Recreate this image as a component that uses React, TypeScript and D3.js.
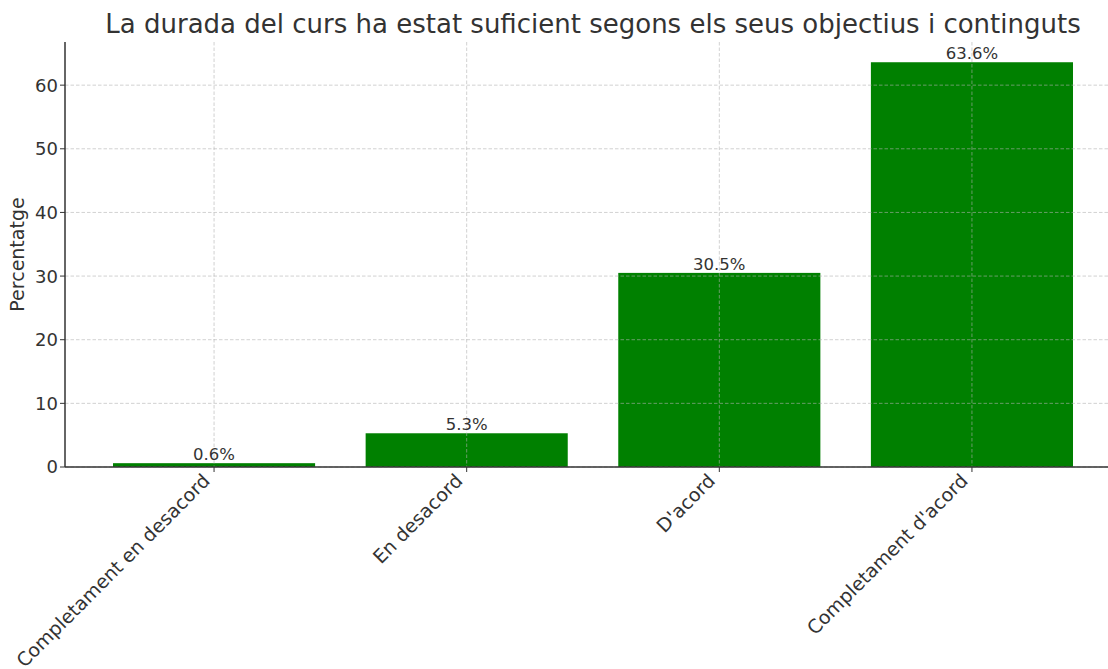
import React, { useEffect, useRef } from 'react'
import * as d3 from 'd3'

const categories = ['Completament en desacord', 'En desacord', "D'acord", "Completament d'acord"]
const values = [0.6, 5.3, 30.5, 63.6]
const yTicks = [0, 10, 20, 30, 40, 50, 60]
const title = 'La durada del curs ha estat suficient segons els seus objectius i continguts'
const yLabel = 'Percentatge'

const W = 1108
const H = 669
const FONT = 'DejaVu Sans, sans-serif'
const TEXT = '#333333'

export default function App() {
  const svgRef = useRef<SVGSVGElement>(null)

  useEffect(() => {
    const svg = d3.select(svgRef.current)
    svg.selectAll('*').remove()

    const left = 65
    const top = 42
    const bottom = 467

    // matplotlib-like bar layout: width 0.8, 5% margins
    const xMin = -0.4 - 0.19
    const xMax = 3.4 + 0.19
    const x = d3.scaleLinear().domain([xMin, xMax]).range([left, left + 1056])
    const yMax = d3.max(values)! * 1.05
    const y = d3.scaleLinear().domain([0, yMax]).range([bottom, top])

    // bars
    svg.append('g')
      .selectAll('rect')
      .data(values)
      .join('rect')
      .attr('x', (_, i) => x(i - 0.4))
      .attr('width', (_, i) => x(i + 0.4) - x(i - 0.4))
      .attr('y', d => y(d))
      .attr('height', d => y(0) - y(d))
      .attr('fill', '#008000')

    // grid on top of bars
    const grid = svg.append('g')
      .attr('stroke', '#b0b0b0')
      .attr('stroke-opacity', 0.65)
      .attr('stroke-dasharray', '3.5,2')
      .attr('stroke-width', 0.9)
    grid.selectAll('line.h')
      .data(yTicks)
      .join('line')
      .attr('class', 'h')
      .attr('x1', left)
      .attr('x2', W)
      .attr('y1', d => y(d))
      .attr('y2', d => y(d))
    grid.selectAll('line.v')
      .data(categories)
      .join('line')
      .attr('class', 'v')
      .attr('x1', (_, i) => x(i))
      .attr('x2', (_, i) => x(i))
      .attr('y1', top)
      .attr('y2', bottom)

    // spines
    svg.append('line')
      .attr('x1', left).attr('x2', left)
      .attr('y1', top).attr('y2', bottom)
      .attr('stroke', '#333').attr('stroke-width', 1.5)
    svg.append('line')
      .attr('x1', left).attr('x2', W)
      .attr('y1', bottom).attr('y2', bottom)
      .attr('stroke', '#333').attr('stroke-width', 1.5)

    // y ticks
    const yt = svg.append('g')
    yt.selectAll('line')
      .data(yTicks)
      .join('line')
      .attr('x1', left - 5).attr('x2', left)
      .attr('y1', d => y(d)).attr('y2', d => y(d))
      .attr('stroke', '#333')
    yt.selectAll('text')
      .data(yTicks)
      .join('text')
      .attr('x', left - 7)
      .attr('y', d => y(d))
      .attr('dy', '0.36em')
      .attr('text-anchor', 'end')
      .attr('font-family', FONT)
      .attr('font-size', 18)
      .attr('fill', TEXT)
      .text(d => d)

    // x ticks + rotated labels
    const xt = svg.append('g')
    xt.selectAll('line')
      .data(categories)
      .join('line')
      .attr('x1', (_, i) => x(i)).attr('x2', (_, i) => x(i))
      .attr('y1', bottom).attr('y2', bottom + 5)
      .attr('stroke', '#333')
    xt.selectAll('text')
      .data(categories)
      .join('text')
      .attr('transform', (_, i) => `translate(${x(i) - 3},${bottom + 15}) rotate(-45)`)
      .attr('text-anchor', 'end')
      .attr('font-family', FONT)
      .attr('font-size', 19)
      .attr('fill', TEXT)
      .text(d => d)

    // value labels
    svg.append('g')
      .selectAll('text')
      .data(values)
      .join('text')
      .attr('x', (_, i) => x(i))
      .attr('y', d => y(d) - 3)
      .attr('text-anchor', 'middle')
      .attr('font-family', FONT)
      .attr('font-size', 16.5)
      .attr('fill', TEXT)
      .text(d => `${d.toFixed(1)}%`)

    // y label
    svg.append('text')
      .attr('transform', `translate(24,${(top + bottom) / 2}) rotate(-90)`)
      .attr('text-anchor', 'middle')
      .attr('font-family', FONT)
      .attr('font-size', 19)
      .attr('fill', TEXT)
      .text(yLabel)

    // title
    svg.append('text')
      .attr('x', (x(xMin) + x(xMax)) / 2)
      .attr('y', 33)
      .attr('text-anchor', 'middle')
      .attr('font-family', FONT)
      .attr('font-size', 26)
      .attr('fill', TEXT)
      .text(title)
  }, [])

  return (
    <div style={{ position: 'fixed', left: 0, top: 0, width: W, height: H, background: '#fff' }}>
      <svg ref={svgRef} width={W} height={H} style={{ display: 'block' }} />
    </div>
  )
}
